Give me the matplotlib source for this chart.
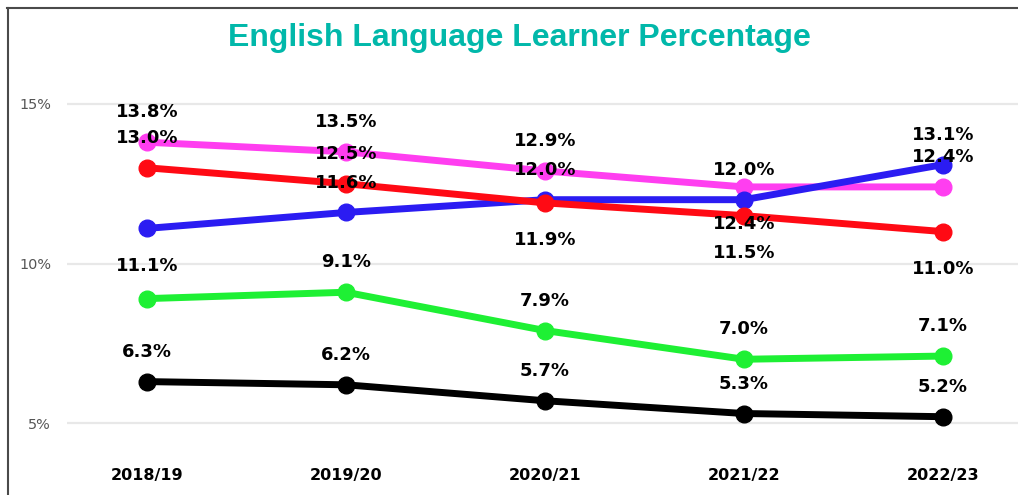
import matplotlib

matplotlib.use("Agg")
import matplotlib.pyplot as plt
from matplotlib.lines import Line2D


# school years on the x axis
years = ["2018/19", "2019/20", "2020/21", "2021/22", "2022/23"]

# ELL percentage per group
pink_vals = [13.8, 13.5, 12.9, 12.4, 12.4]
blue_vals = [11.1, 11.6, 12.0, 12.0, 13.1]
red_vals = [13.0, 12.5, 11.9, 11.5, 11.0]
green_vals = [8.9, 9.1, 7.9, 7.0, 7.1]
black_vals = [6.3, 6.2, 5.7, 5.3, 5.2]

y_ticks = [5, 10, 15]

SERIES = [
    ("pink", pink_vals, "#FF3EF0"),
    ("blue", blue_vals, "#2B1CF2"),
    ("red", red_vals, "#FF0A14"),
    ("green", green_vals, "#1EF034"),
    ("black", black_vals, "#000000"),
]

# where the data labels sit relative to the point
LABEL_BELOW = {("red", 2), ("red", 3), ("red", 4), ("blue", 0), ("pink", 3)}
LABEL_HIDDEN = {("green", 0)}


fig = plt.figure(figsize=(10.18, 4.95), dpi=100)
ax = fig.add_axes([67 / 1018, 0.0808, 1 - 67 / 1018, 0.7737])

x = list(range(len(years)))
for name, vals, color in SERIES:
    ax.plot(x, vals, color=color, linewidth=5, marker="o", markersize=12,
            solid_capstyle="round", zorder=3)
    for i, v in enumerate(vals):
        if (name, i) in LABEL_HIDDEN:
            continue
        dy = -27 if (name, i) in LABEL_BELOW else 21.5
        ax.annotate(f"{v:.1f}%", (i, v), xytext=(0, dy), textcoords="offset points",
                    ha="center", va="center", fontsize=13, fontweight="bold",
                    family="DejaVu Sans", color="black", zorder=5)

ax.set_xlim(-0.402, 4.377)
ax.set_ylim(4, 16)
ax.set_xticks(x)
ax.set_xticklabels(years, fontsize=11.5, fontweight="bold", family="DejaVu Sans")
ax.set_yticks(y_ticks)
ax.set_yticklabels([f"{t}%" for t in y_ticks], fontsize=10.4, color="#555555",
                   family="DejaVu Sans")
ax.tick_params(axis="both", length=0)
ax.tick_params(axis="x", pad=9)
ax.tick_params(axis="y", pad=11.5)
ax.grid(axis="y", color="#E8E8E8", linewidth=1.6)
ax.set_axisbelow(True)
for spine in ax.spines.values():
    spine.set_visible(False)

fig.text(0.5105, 1 - 46 / 495, "English Language Learner Percentage", ha="center",
         va="baseline", fontsize=23, fontweight="bold", color="#01B8AA",
         family="Liberation Sans")

# frame around the visual
top = 1 - 8 / 495
fig.add_artist(Line2D([7 / 1018, 1], [top, top], transform=fig.transFigure,
                      color="#4A4A4A", linewidth=1.5))
fig.add_artist(Line2D([8 / 1018, 8 / 1018], [0, top], transform=fig.transFigure,
                      color="#4A4A4A", linewidth=1.5))

fig.savefig("out.png", dpi=100)
